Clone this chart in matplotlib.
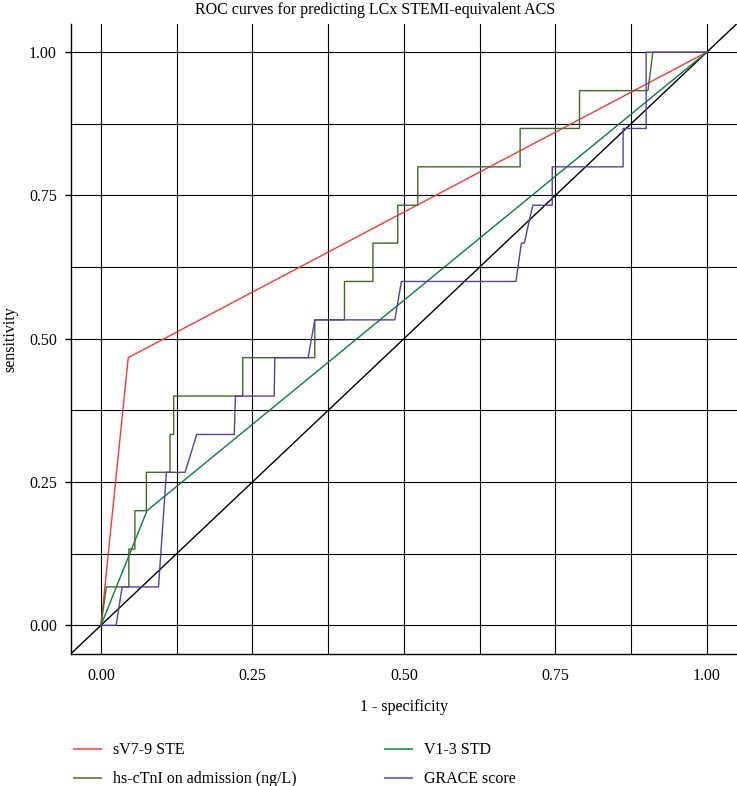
import numpy as np
import matplotlib
matplotlib.use('Agg')
import matplotlib.pyplot as plt
from matplotlib.ticker import MultipleLocator

plt.rcParams['font.family'] = ['Liberation Serif', 'DejaVu Serif']

# ROC points (x = 1 - specificity, y = sensitivity)
ste_fpr = [0.0, 0.045, 1.0]
ste_tpr = [0.0, 0.467, 1.0]

std_fpr = [0.0, 0.076, 1.0]
std_tpr = [0.0, 0.200, 1.0]

tni_fpr = [0.0, 0.009, 0.046, 0.046, 0.056, 0.056, 0.075, 0.075, 0.114, 0.114,
           0.120, 0.120, 0.234, 0.234, 0.353, 0.353, 0.402, 0.402, 0.449, 0.449,
           0.490, 0.490, 0.523, 0.523, 0.692, 0.692, 0.790, 0.790, 0.903, 0.911, 1.0]
tni_tpr = [0.0, 0.067, 0.067, 0.133, 0.133, 0.200, 0.200, 0.267, 0.267, 0.333,
           0.333, 0.400, 0.400, 0.467, 0.467, 0.533, 0.533, 0.600, 0.600, 0.667,
           0.667, 0.733, 0.733, 0.800, 0.800, 0.867, 0.867, 0.933, 0.933, 1.0, 1.0]

grace_fpr = [0.0, 0.025, 0.035, 0.095, 0.108, 0.139, 0.158, 0.220, 0.222, 0.286,
             0.287, 0.342, 0.353, 0.485, 0.496, 0.685, 0.694, 0.699, 0.708, 0.713,
             0.745, 0.745, 0.862, 0.862, 0.900, 0.900, 1.0]
grace_tpr = [0.0, 0.0, 0.067, 0.067, 0.267, 0.267, 0.333, 0.333, 0.400, 0.400,
             0.467, 0.467, 0.533, 0.533, 0.600, 0.600, 0.667, 0.667, 0.711, 0.733,
             0.733, 0.800, 0.800, 0.867, 0.867, 1.0, 1.0]

labels = ['sV7-9 STE', 'V1-3 STD', 'hs-cTnI on admission (ng/L)', 'GRACE score']
colors = ['#f03c3c', '#0d7d3c', '#3f6a2a', '#5a3f9e']

fs = 11.5

fig = plt.figure(figsize=(7.37, 7.86), dpi=100)
ax = fig.add_axes([0.0959, 0.168, 0.9041, 0.802])

# grid: black major and minor lines
ax.xaxis.set_major_locator(MultipleLocator(0.25))
ax.yaxis.set_major_locator(MultipleLocator(0.25))
ax.xaxis.set_minor_locator(MultipleLocator(0.125))
ax.yaxis.set_minor_locator(MultipleLocator(0.125))
ax.grid(which='both', color='black', linewidth=0.8)
ax.set_axisbelow(True)

# reference diagonal
ax.axline((0, 0), slope=1, color='black', linewidth=1.0)

l1, = ax.plot(ste_fpr, ste_tpr, color=colors[0], lw=1.0, label=labels[0])
l2, = ax.plot(std_fpr, std_tpr, color=colors[1], lw=1.0, label=labels[1])
l3, = ax.plot(tni_fpr, tni_tpr, color=colors[2], lw=1.0, label=labels[2])
l4, = ax.plot(grace_fpr, grace_tpr, color=colors[3], lw=1.0, label=labels[3])

ax.set_xlim(-0.05, 1.05)
ax.set_ylim(-0.05, 1.05)
ax.set_xticks([0, 0.25, 0.5, 0.75, 1.0])
ax.set_yticks([0, 0.25, 0.5, 0.75, 1.0])
ax.set_xticklabels(['0.00', '0.25', '0.50', '0.75', '1.00'])
ax.set_yticklabels(['0.00', '0.25', '0.50', '0.75', '1.00'])
ax.tick_params(axis='x', which='major', length=0, pad=10, labelsize=fs)
ax.tick_params(axis='y', which='major', length=4, width=1, pad=6, labelsize=fs)
ax.tick_params(which='minor', length=0)

for s in ['top', 'right']:
    ax.spines[s].set_visible(False)
for s in ['left', 'bottom']:
    ax.spines[s].set_linewidth(1.0)

ax.set_xlabel('1 - specificity', fontsize=fs, labelpad=11)
fig.text(10 / 737, 1 - 339 / 786, 'sensitivity', rotation=90, ha='center', va='center', fontsize=fs)
fig.text(375 / 737, 1 - 10 / 786, 'ROC curves for predicting LCx STEMI-equivalent ACS',
         ha='center', va='center', fontsize=fs)

# legend below: two single-column legends placed side by side
leg_kw = dict(loc='upper left', frameon=False, fontsize=fs, handlelength=1.7,
              handletextpad=0.7, labelspacing=0.82, borderpad=0.2, borderaxespad=0)
leg1 = fig.legend([l1, l3], [labels[0], labels[2]], bbox_to_anchor=(71 / 737, 1 - 739 / 786), **leg_kw)
leg2 = fig.legend([l2, l4], [labels[1], labels[3]], bbox_to_anchor=(382 / 737, 1 - 739 / 786), **leg_kw)
for leg in (leg1, leg2):
    for h in leg.get_lines():
        h.set_linewidth(1.5)
        h.set_alpha(0.75)

plt.savefig('out.png', dpi=100)
